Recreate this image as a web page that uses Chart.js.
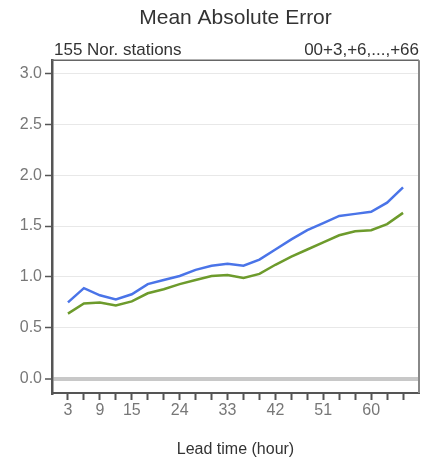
<!DOCTYPE html>
<html>
<head>
<meta charset="utf-8">
<script src="https://cdn.jsdelivr.net/npm/chart.js@4"></script>
<style>
  body { margin: 0; background: #fff; }
  #chart { display: block; }
</style>
</head>
<body>
<canvas id="chart" width="435" height="465"></canvas>
<script>
// lead times 3..66 hours
const leadTimes = [3, 6, 9, 12, 15, 18, 21, 24, 27, 30, 33, 36, 39, 42, 45, 48, 51, 54, 57, 60, 63, 66];
const blueMae = [0.75, 0.89, 0.82, 0.78, 0.83, 0.93, 0.97, 1.01, 1.07, 1.11, 1.13, 1.11, 1.17, 1.27, 1.37, 1.46, 1.53, 1.60, 1.62, 1.64, 1.73, 1.88];
const greenMae = [0.64, 0.74, 0.75, 0.72, 0.76, 0.84, 0.88, 0.93, 0.97, 1.01, 1.02, 0.99, 1.03, 1.12, 1.20, 1.27, 1.34, 1.41, 1.45, 1.46, 1.52, 1.63];
const xLabels = [3, 9, 15, 24, 33, 42, 51, 60];
const yTicks = [0, 0.5, 1.0, 1.5, 2.0, 2.5, 3.0];

const FONT = "'Liberation Sans', Arial, sans-serif";

// subtitles above the plot + frame on top/right
const framePlugin = {
  id: 'frame',
  afterDraw(chart) {
    const { ctx, chartArea } = chart;
    ctx.save();
    ctx.strokeStyle = '#666';
    ctx.lineWidth = 1.5;
    ctx.beginPath();
    ctx.moveTo(chartArea.left, chartArea.top);
    ctx.lineTo(chartArea.right, chartArea.top);
    ctx.stroke();
    ctx.strokeStyle = '#888';
    ctx.lineWidth = 2;
    ctx.beginPath();
    ctx.moveTo(chartArea.right, chartArea.top);
    ctx.lineTo(chartArea.right, chartArea.bottom);
    ctx.stroke();

    ctx.fillStyle = '#333';
    ctx.font = '17px ' + FONT;
    ctx.textBaseline = 'alphabetic';
    ctx.textAlign = 'left';
    ctx.fillText('155 Nor. stations', chartArea.left + 2, chartArea.top - 5);
    ctx.textAlign = 'right';
    ctx.fillText('00+3,+6,...,+66', chartArea.right, chartArea.top - 5);
    ctx.restore();
  }
};

new Chart(document.getElementById('chart'), {
  type: 'line',
  data: {
    datasets: [
      {
        label: 'blue',
        data: leadTimes.map((t, i) => ({ x: t, y: blueMae[i] })),
        borderColor: '#4a74e8',
        borderWidth: 2.5,
        pointRadius: 0,
        tension: 0,
        fill: false
      },
      {
        label: 'green',
        data: leadTimes.map((t, i) => ({ x: t, y: greenMae[i] })),
        borderColor: '#6d9b2c',
        borderWidth: 2.5,
        pointRadius: 0,
        tension: 0,
        fill: false
      }
    ]
  },
  options: {
    responsive: false,
    animation: false,
    layout: { padding: { left: 0, right: 16, top: 0, bottom: 0 } },
    plugins: {
      legend: { display: false },
      tooltip: { enabled: false },
      title: {
        display: true,
        fullSize: false,
        text: 'Mean Absolute Error',
        color: '#333',
        font: { family: FONT, size: 21, weight: 'normal' },
        padding: { top: 6, bottom: 29 }
      }
    },
    scales: {
      x: {
        type: 'linear',
        min: 0,
        max: 69,
        afterBuildTicks: (scale) => {
          scale.ticks = leadTimes.map(v => ({ value: v }));
        },
        afterFit: (scale) => { scale.height = 72; },
        ticks: {
          autoSkip: false,
          maxRotation: 0,
          padding: 1,
          color: '#777',
          font: { family: FONT, size: 16 },
          callback: (v) => xLabels.includes(v) ? String(v) : ''
        },
        grid: {
          drawOnChartArea: false,
          drawTicks: true,
          tickLength: 7,
          tickColor: '#555',
          tickWidth: 2
        },
        border: { display: true, color: '#555', width: 2 },
        title: {
          display: true,
          text: 'Lead time (hour)',
          color: '#333',
          font: { family: FONT, size: 16 },
          padding: { top: 14, bottom: 6 }
        }
      },
      y: {
        min: -0.14,
        max: 3.13,
        afterBuildTicks: (scale) => {
          scale.ticks = yTicks.map(v => ({ value: v }));
        },
        afterFit: (scale) => { scale.width = 52; },
        ticks: {
          padding: 3,
          color: '#777',
          font: { family: FONT, size: 16 },
          callback: (v) => Number(v).toFixed(1)
        },
        grid: {
          color: (c) => c.tick && c.tick.value === 0 ? '#c8c8c8' : '#e8e8e8',
          lineWidth: (c) => c.tick && c.tick.value === 0 ? 4 : 1,
          tickLength: 7,
          tickColor: '#555',
          tickWidth: 1.5
        },
        border: { display: true, color: '#555', width: 2.5 }
      }
    }
  },
  plugins: [framePlugin]
});
</script>
</body>
</html>
